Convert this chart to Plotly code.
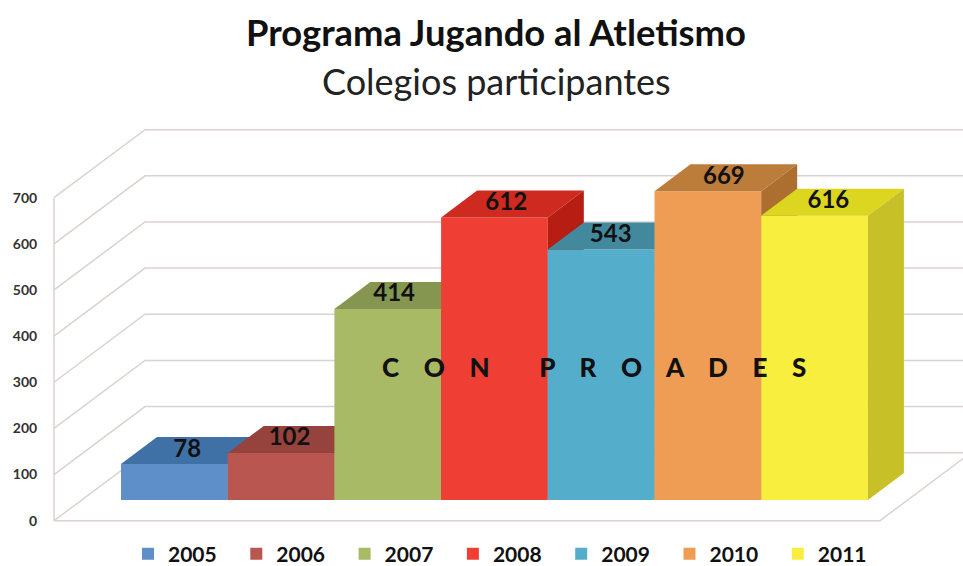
import plotly.graph_objects as go

YEARS = [2005, 2006, 2007, 2008, 2009, 2010, 2011]
VALUES = [78, 102, 414, 612, 543, 669, 616]
FRONT = ["#5F8FC8", "#B9564F", "#A9BA66", "#EF3F34", "#54AECB", "#EF9D55", "#F8EE3E"]
TOP = ["#3F70A6", "#96423D", "#84964F", "#CE2A1F", "#43899E", "#BC7C3A", "#DDD620"]
SIDE = ["#3A6694", "#853A36", "#778845", "#B71D12", "#3C7C90", "#AD6F30", "#C7C026"]
LABEL_SHIFT = [0.12, 0.08, 0.06, 0.11, 0.09, 0.15, 0.13]
AXIS_TICKS = [0, 100, 200, 300, 400, 500, 600, 700]

W, H = 963, 566
PX_YEAR = 106.7          # px per category
PX_UNIT = 0.4615         # px per value unit
X_2005 = 174.35          # px of the 2005 bar centre
BAR_BASE = 500.0         # px of the bar baseline
WALL_BASE = 520.7        # px of the axis zero
INK = "#111111"
GRID = "#DCD2CE"
FONT = "Lato"

x_range = [2005 - X_2005 / PX_YEAR, 2005 + (W - X_2005) / PX_YEAR]
bar_y_range = [(BAR_BASE - H) / PX_UNIT, BAR_BASE / PX_UNIT]
wall_y_range = [(WALL_BASE - H) / PX_UNIT, WALL_BASE / PX_UNIT]

BAR_DX, BAR_DY = 36 / PX_YEAR, 27 / PX_UNIT
WALL_LEFT = 2005 + (54 - X_2005) / PX_YEAR
WALL_RIGHT = 2005 + (880 - X_2005) / PX_YEAR
WALL_DX, WALL_DY = 91 / PX_YEAR, 68 / PX_UNIT

fig = go.Figure()

# Walls and floor, on the primary axes
gx, gy = [WALL_LEFT, WALL_LEFT, None], [AXIS_TICKS[0], AXIS_TICKS[-1], None]
for t in AXIS_TICKS:
    gx += [WALL_LEFT, WALL_LEFT + WALL_DX, x_range[1] + 1, None]
    gy += [t, t + WALL_DY, t + WALL_DY, None]
gx += [WALL_LEFT, WALL_RIGHT, WALL_RIGHT + WALL_DX]
gy += [0, 0, WALL_DY]
fig.add_trace(go.Scatter(x=gx, y=gy, mode="lines", line=dict(color=GRID, width=1.5),
                         showlegend=False, hoverinfo="skip"))

# Every bar lives on its own overlaid axes so that later bars paint over earlier ones
for i, (year, val) in enumerate(zip(YEARS, VALUES)):
    n = i + 2
    xa, ya = f"x{n}", f"y{n}"
    fig.add_trace(go.Bar(x=[year], y=[val], width=1, name=str(year),
                         marker=dict(color=FRONT[i], line=dict(width=0)),
                         xaxis=xa, yaxis=ya, showlegend=True))
    l, r = year - 0.5, year + 0.5
    fig.add_trace(go.Scatter(x=[l, r, r + BAR_DX, l + BAR_DX, l],
                             y=[val, val, val + BAR_DY, val + BAR_DY, val],
                             fill="toself", fillcolor=TOP[i], mode="none",
                             xaxis=xa, yaxis=ya, showlegend=False, hoverinfo="skip"))
    fig.add_trace(go.Scatter(x=[r, r + BAR_DX, r + BAR_DX, r, r],
                             y=[0, BAR_DY, val + BAR_DY, val, 0],
                             fill="toself", fillcolor=SIDE[i], mode="none",
                             xaxis=xa, yaxis=ya, showlegend=False, hoverinfo="skip"))
    fig.layout[f"xaxis{n}"] = dict(overlaying="x", visible=False, range=x_range, fixedrange=True)
    fig.layout[f"yaxis{n}"] = dict(overlaying="y", visible=False, range=bar_y_range, fixedrange=True)

# Value labels sit on the top faces
last = len(YEARS) + 1
fig.add_trace(go.Scatter(x=[y + s for y, s in zip(YEARS, LABEL_SHIFT)],
                         y=[v + BAR_DY / 2 for v in VALUES],
                         text=[str(v) for v in VALUES], mode="text",
                         textposition="middle center",
                         textfont=dict(family=FONT, size=24, color=INK, weight=700),
                         xaxis=f"x{last}", yaxis=f"y{last}", showlegend=False, hoverinfo="skip"))

gap = "\u00a0" * 4
center_text = gap.join("CON") + gap * 2 + gap.join("PROADES")

fig.update_layout(
    width=W, height=H, margin=dict(l=0, r=0, t=0, b=0, autoexpand=False),
    paper_bgcolor="white", plot_bgcolor="white",
    font=dict(family=FONT, color=INK),
    title=dict(text="<b>Programa Jugando al Atletismo</b>", x=496 / W, xanchor="center",
               y=1 - 33 / H, yanchor="middle", font=dict(family=FONT, size=36.4, color=INK)),
    xaxis=dict(visible=False, range=x_range, fixedrange=True),
    yaxis=dict(range=wall_y_range, anchor="free", position=54 / W, tickvals=AXIS_TICKS,
               showgrid=False, zeroline=False, showline=False, ticks="outside", ticklen=14,
               tickcolor="rgba(0,0,0,0)", fixedrange=True,
               tickfont=dict(family=FONT, size=14, color="#333333", weight=700)),
    legend=dict(orientation="h", x=128 / W, xanchor="left", y=1 - 554 / H, yanchor="middle",
                entrywidth=63.3, entrywidthmode="pixels", bgcolor="rgba(0,0,0,0)",
                traceorder="normal", font=dict(family=FONT, size=21, color=INK, weight=700)),
    annotations=[
        dict(text="Colegios participantes", xref="paper", yref="paper", x=496 / W, y=1 - 81 / H,
             xanchor="center", yanchor="middle", showarrow=False,
             font=dict(family=FONT, size=36, color="#222222")),
        dict(text=center_text, xref="paper", yref="paper", x=594 / W, y=1 - 367 / H,
             xanchor="center", yanchor="middle", showarrow=False,
             font=dict(family=FONT, size=26, color=INK, weight=900)),
    ],
)

fig.write_html("out.html", post_script="document.body.style.margin='0';",
               config=dict(displayModeBar=False))
